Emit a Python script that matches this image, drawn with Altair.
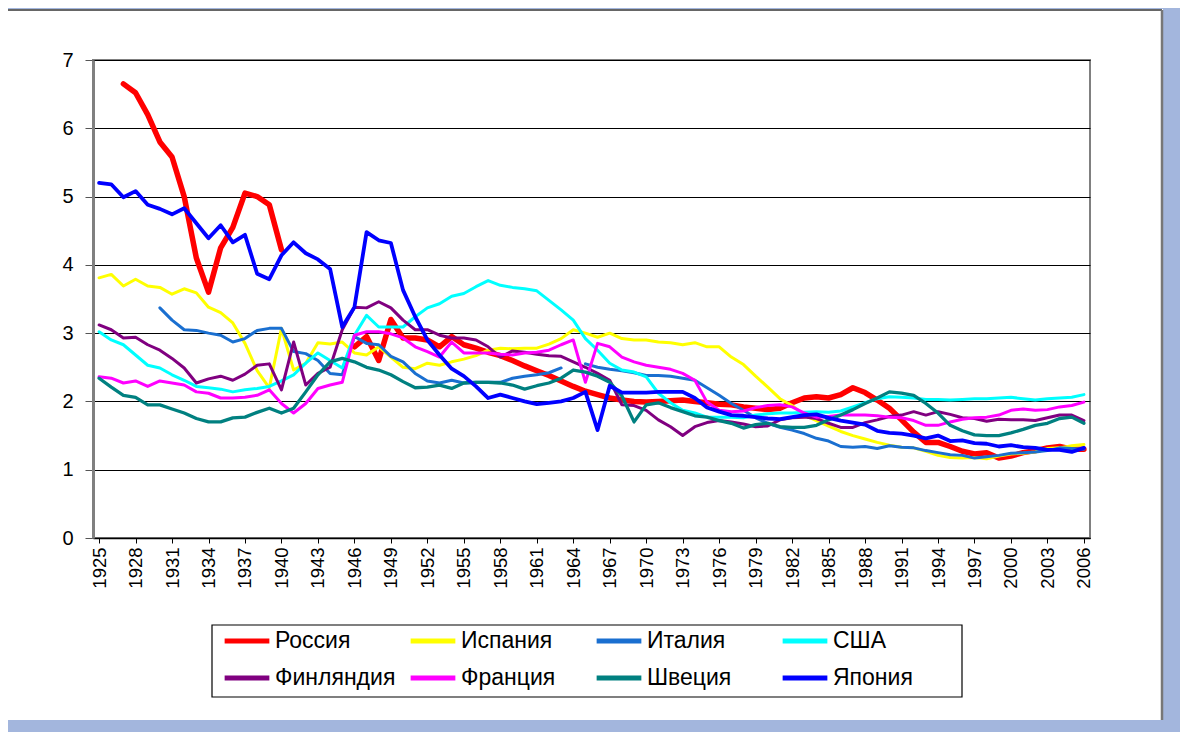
import altair as alt
import pandas as pd

years = list(range(1925, 2007))
tick_years = list(range(1925, 2007, 3))
y_ticks = [0, 1, 2, 3, 4, 5, 6, 7]

countries = ["Россия", "Испания", "Италия", "США", "Финляндия", "Франция", "Швеция", "Япония"]
colors = ["#FF0000", "#FFFF00", "#1A6FD0", "#00FFFF", "#800080", "#FF00FF", "#008080", "#0000FF"]
widths = [5.5, 3, 3, 3, 3, 3, 3.3, 3.8]

russia = [None, None,
          6.65, 6.52, 6.2, 5.8, 5.58, 5.0, 4.1, 3.6, 4.25, 4.55, 5.05, 5.0, 4.88, 4.22,
          None, None, None, None, None,
          2.8, 2.95, 2.6, 3.2, 2.93, 2.93, 2.9, 2.8, 2.95, 2.83,
          2.78, 2.72, 2.67, 2.6, 2.52, 2.45, 2.38, 2.3, 2.22, 2.15,
          2.1, 2.05, 2.02, 2.0, 1.99, 2.0, 2.01, 2.02, 2.0, 1.98,
          1.96, 1.95, 1.92, 1.9, 1.88, 1.9, 1.98, 2.05, 2.07, 2.05,
          2.1, 2.2, 2.13, 2.02, 1.9, 1.73, 1.55, 1.4, 1.4, 1.34,
          1.27, 1.23, 1.25, 1.17, 1.2, 1.25, 1.28, 1.32, 1.34, 1.3,
          1.3]

spain = [3.81, 3.86, 3.69, 3.79, 3.69, 3.67, 3.57, 3.65, 3.59, 3.38,
         3.3, 3.15, 2.85, 2.45, 2.2, 3.07, 2.46, 2.56, 2.86, 2.84,
         2.87, 2.71, 2.68, 2.8, 2.65, 2.5, 2.48, 2.56, 2.53, 2.58,
         2.62, 2.67, 2.75, 2.78, 2.77, 2.78, 2.78, 2.84, 2.92, 3.05,
         3.0, 2.94, 3.0, 2.92, 2.9, 2.9, 2.87, 2.86, 2.83, 2.86,
         2.8, 2.8, 2.65, 2.54, 2.37, 2.21, 2.04, 1.94, 1.8, 1.72,
         1.64, 1.56, 1.5, 1.45, 1.4, 1.36, 1.33, 1.32, 1.27, 1.21,
         1.18, 1.17, 1.18, 1.16, 1.2, 1.23, 1.24, 1.26, 1.31, 1.32,
         1.35, 1.37]

italy = [None, None, None, None, None,
         3.37, 3.19, 3.05, 3.04, 3.0, 2.97, 2.87, 2.92, 3.04, 3.07,
         3.07, 2.73, 2.7, 2.6, 2.41, 2.39, 2.95, 2.85, 2.83, 2.66,
         2.58, 2.41, 2.3, 2.27, 2.31, 2.27, 2.28, 2.28, 2.28, 2.34,
         2.37, 2.39, 2.42, 2.49, None, 2.55, 2.5, 2.47, 2.45, 2.42,
         2.38, 2.38, 2.37, 2.34, 2.31, 2.2, 2.09, 1.97, 1.87, 1.76,
         1.68, 1.62, 1.58, 1.53, 1.46, 1.42, 1.34, 1.33, 1.34, 1.31,
         1.35, 1.33, 1.32, 1.28, 1.25, 1.22, 1.21, 1.17, 1.19, 1.21,
         1.24, 1.25, 1.26, 1.28, 1.32, 1.31, 1.3]

usa = [3.02, 2.9, 2.83, 2.68, 2.53, 2.49, 2.39, 2.31, 2.22, 2.2,
       2.18, 2.14, 2.17, 2.19, 2.22, 2.3, 2.39, 2.56, 2.71, 2.6,
       2.49, 2.97, 3.26, 3.09, 3.09, 3.09, 3.24, 3.37, 3.43, 3.54,
       3.58, 3.68, 3.77, 3.7, 3.67, 3.65, 3.62, 3.48, 3.34, 3.19,
       2.92, 2.75, 2.56, 2.46, 2.43, 2.36, 2.12, 1.98, 1.87, 1.83,
       1.77, 1.77, 1.77, 1.76, 1.8, 1.82, 1.83, 1.83, 1.84, 1.85,
       1.84, 1.86, 1.92, 1.98, 2.04, 2.07, 2.06, 2.05, 2.03, 2.03,
       2.02, 2.03, 2.04, 2.04, 2.05, 2.06, 2.04, 2.02, 2.04, 2.05,
       2.06, 2.1]

finland = [3.12, 3.05, 2.93, 2.94, 2.83, 2.75, 2.63, 2.49, 2.27, 2.33,
           2.37, 2.31, 2.4, 2.53, 2.55, 2.17, 2.87, 2.24, 2.41, 2.5,
           3.05, 3.38, 3.37, 3.46, 3.37, 3.19, 3.05, 3.05, 2.97, 2.93,
           2.93, 2.9, 2.8, 2.65, 2.74, 2.72, 2.69, 2.67, 2.66, 2.58,
           2.5, 2.41, 2.31, 1.95, 1.94, 1.87, 1.73, 1.63, 1.5, 1.63,
           1.69, 1.72, 1.7, 1.67, 1.63, 1.64, 1.73, 1.76, 1.77, 1.75,
           1.68, 1.62, 1.62, 1.69, 1.73, 1.78, 1.8, 1.85, 1.8, 1.85,
           1.81, 1.76, 1.75, 1.71, 1.74, 1.73, 1.73, 1.72, 1.76, 1.8,
           1.8, 1.72]

france = [2.36, 2.34, 2.27, 2.3, 2.22, 2.3, 2.27, 2.24, 2.14, 2.12,
          2.05, 2.05, 2.06, 2.09, 2.17, 1.97, 1.83, 1.97, 2.19, 2.24,
          2.28, 2.97, 3.02, 3.02, 2.99, 2.93, 2.8, 2.73, 2.65, 2.87,
          2.71, 2.71, 2.71, 2.69, 2.68, 2.71, 2.72, 2.75, 2.83, 2.9,
          2.28, 2.85, 2.8, 2.65, 2.58, 2.53, 2.5, 2.47, 2.41, 2.31,
          1.99, 1.87, 1.85, 1.86, 1.91, 1.94, 1.95, 1.92, 1.83, 1.77,
          1.78, 1.8, 1.8, 1.8, 1.79, 1.77, 1.76, 1.72, 1.65, 1.65,
          1.7, 1.74, 1.76, 1.77, 1.8, 1.87, 1.89, 1.87, 1.88, 1.92,
          1.94, 1.99]

sweden = [2.34, 2.21, 2.09, 2.06, 1.95, 1.95, 1.89, 1.83, 1.75, 1.7,
          1.7, 1.76, 1.77, 1.84, 1.9, 1.83, 1.9, 2.14, 2.39, 2.58,
          2.63, 2.58, 2.5, 2.46, 2.39, 2.29, 2.2, 2.21, 2.24, 2.19,
          2.27, 2.28, 2.28, 2.27, 2.24, 2.18, 2.23, 2.27, 2.34, 2.46,
          2.43, 2.37, 2.28, 2.08, 1.7, 1.95, 1.98, 1.91, 1.85, 1.79,
          1.77, 1.72, 1.68, 1.61, 1.66, 1.68, 1.63, 1.62, 1.62, 1.65,
          1.73, 1.8, 1.88, 1.97, 2.05, 2.14, 2.12, 2.09, 1.97, 1.83,
          1.65, 1.57, 1.51, 1.5, 1.5, 1.54, 1.59, 1.65, 1.68, 1.75,
          1.77, 1.68]

japan = [5.2, 5.18, 4.99, 5.08, 4.88, 4.82, 4.74, 4.83, 4.61, 4.39,
         4.58, 4.33, 4.44, 3.87, 3.79, 4.14, 4.33, 4.17, 4.08, 3.94,
         3.09, 3.38, 4.48, 4.36, 4.32, 3.63, 3.24, 2.9, 2.68, 2.48,
         2.37, 2.22, 2.05, 2.1, 2.05, 2.0, 1.96, 1.98, 2.0, 2.05,
         2.14, 1.58, 2.23, 2.13, 2.13, 2.13, 2.14, 2.14, 2.14, 2.05,
         1.91, 1.85, 1.8, 1.79, 1.77, 1.75, 1.74, 1.77, 1.8, 1.81,
         1.76, 1.72, 1.69, 1.66, 1.57, 1.54, 1.53, 1.5, 1.46, 1.5,
         1.42, 1.43, 1.39, 1.38, 1.34, 1.36, 1.33, 1.32, 1.29, 1.29,
         1.26, 1.32]

series = [russia, spain, italy, usa, finland, france, sweden, japan]

rows = []
for c, vals in zip(countries, series):
    if len(vals) != len(years):
        raise ValueError(f"{c}: {len(vals)} values")
    seg = 0
    for yr, v in zip(years, vals):
        if v is None:
            seg += 1
            continue
        rows.append({"year": yr, "value": v, "country": c, "seg": f"{c}-{seg}"})
df = pd.DataFrame(rows)

W, H = 997, 478
FONT = "Liberation Sans"
BLUE_BG = "#A3B6DD"

x_enc = alt.X("year:Q", title=None,
              scale=alt.Scale(domain=[1924.5, 2006.5], nice=False, zero=False),
              axis=alt.Axis(values=tick_years, format="d", labelAngle=270,
                            labelFontSize=18.5, labelFont=FONT, labelColor="#000000",
                            labelPadding=4, tickSize=5, tickColor="#000000",
                            domainColor="#000000", domainWidth=1.5, grid=False,
                            labelOverlap=False, labelBound=False, labelFlush=False))
y_enc = alt.Y("value:Q", title=None,
              scale=alt.Scale(domain=[0, 7], nice=False, zero=True),
              axis=alt.Axis(values=y_ticks, format="d", labelFontSize=20, labelFont=FONT,
                            labelColor="#000000", labelPadding=12, tickSize=8,
                            tickColor="#555555", domainColor="#808080", domainWidth=3,
                            grid=True, gridColor="#000000", gridWidth=1))

dummy = pd.DataFrame({"a": [0]})
band_right = alt.Chart(dummy).mark_rect(color=BLUE_BG).encode(
    x=alt.value(1070), x2=alt.value(1120), y=alt.value(-70), y2=alt.value(720))
band_bottom = alt.Chart(dummy).mark_rect(color=BLUE_BG).encode(
    x=alt.value(-100), x2=alt.value(1120), y=alt.value(660), y2=alt.value(720))
band_top = alt.Chart(dummy).mark_rect(color=BLUE_BG).encode(
    x=alt.value(-100), x2=alt.value(1120), y=alt.value(-70), y2=alt.value(-51))
edge_top = alt.Chart(dummy).mark_rule(color="#333333", strokeWidth=1.5).encode(
    x=alt.value(-100), x2=alt.value(1069), y=alt.value(-50))
edge_right = alt.Chart(dummy).mark_rule(color="#777777", strokeWidth=2.5).encode(
    x=alt.value(1069), y=alt.value(-50), y2=alt.value(660))
legend_box = alt.Chart(dummy).mark_rect(fill="#FFFFFF", stroke="#000000", strokeWidth=1.2).encode(
    x=alt.value(119), x2=alt.value(869), y=alt.value(565), y2=alt.value(637))

layers = [band_right, band_bottom, band_top, edge_top, edge_right, legend_box]

for c, col, w in zip(countries, colors, widths):
    layers.append(
        alt.Chart(df).transform_filter(alt.datum.country == c)
        .mark_line(strokeJoin="round", strokeCap="round", strokeWidth=w, color=col)
        .encode(x=x_enc, y=y_enc, detail="seg:N")
    )

legend_layer = alt.Chart(df).transform_filter("false").mark_line(strokeWidth=5).encode(
    x=x_enc, y=y_enc,
    color=alt.Color("country:N",
                    scale=alt.Scale(domain=countries, range=colors),
                    legend=alt.Legend(title=None, orient="none", legendX=129, legendY=556,
                                      direction="horizontal", columns=4, gridAlign="all",
                                      symbolType="stroke", symbolSize=2000,
                                      symbolStrokeWidth=5, labelFontSize=23,
                                      labelFont=FONT, labelColor="#000000",
                                      labelOffset=3, columnPadding=4, rowPadding=-14,
                                      padding=0, labelLimit=300)),
)
layers.append(legend_layer)

chart = alt.layer(*layers).properties(
    width=W, height=H,
    autosize=alt.AutoSizeParams(type="none"),
    padding={"left": 85, "top": 52, "right": 90, "bottom": 194},
    background="#FFFFFF",
).configure_view(stroke="#808080", strokeWidth=2)

chart.save("out.html", embed_options={"renderer": "svg", "actions": False})
